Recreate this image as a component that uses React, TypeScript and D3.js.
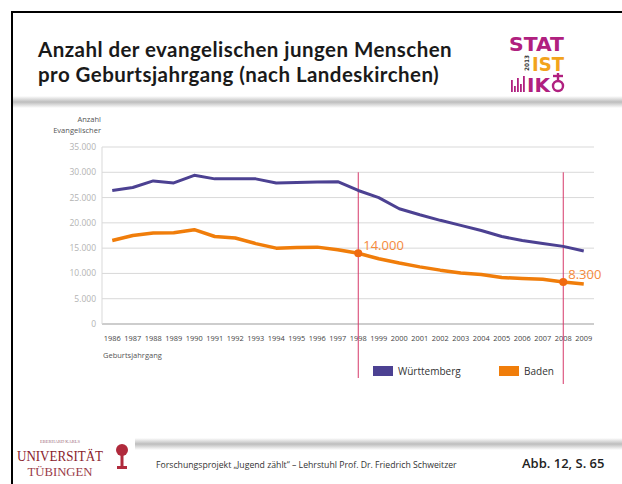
import React, { useRef, useEffect } from 'react';
import * as d3 from 'd3';

const years = [
  '1986', '1987', '1988', '1989', '1990', '1991', '1992', '1993', '1994', '1995', '1996', '1997',
  '1998', '1999', '2000', '2001', '2002', '2003', '2004', '2005', '2006', '2007', '2008', '2009',
];
const wuerttemberg = [
  26400, 27000, 28300, 27900, 29400, 28700, 28700, 28700, 27900, 28000, 28100, 28150,
  26400, 25000, 22800, 21600, 20500, 19500, 18500, 17300, 16500, 15900, 15350, 14450,
];
const baden = [
  16500, 17500, 18000, 18050, 18650, 17300, 17000, 15900, 15000, 15150, 15200, 14700,
  14000, 12900, 12050, 11300, 10650, 10100, 9800, 9200, 9000, 8850, 8300, 7900,
];
const yTicks = [0, 5000, 10000, 15000, 20000, 25000, 30000, 35000];
const markedYears = ['1998', '2008'];
const markedLabels = ['14.000', '8.300'];

const de = d3.formatLocale({ decimal: ',', thousands: '.', grouping: [3], currency: ['', ' €'] });
const fmt = de.format(',d');

const renderChart = (node: SVGSVGElement) => {
  const svg = d3.select(node);
  svg.selectAll('*').remove();

  const defs = svg.append('defs');
  const grad = defs.append('linearGradient').attr('id', 'band').attr('x1', 0).attr('x2', 0).attr('y1', 0).attr('y2', 1);
  grad.append('stop').attr('offset', '0%').attr('stop-color', '#fff');
  grad.append('stop').attr('offset', '50%').attr('stop-color', '#bdbdbd');
  grad.append('stop').attr('offset', '100%').attr('stop-color', '#fff');

  svg.append('rect').attr('width', 622).attr('height', 484).attr('fill', '#fff');

  // frame
  svg.append('line').attr('x1', 11).attr('x2', 622).attr('y1', 12).attr('y2', 12).attr('stroke', '#000').attr('stroke-width', 2);
  svg.append('line').attr('x1', 12).attr('x2', 12).attr('y1', 11).attr('y2', 484).attr('stroke', '#000').attr('stroke-width', 2);

  // title
  const title = svg.append('text')
    .attr('font-family', 'Lato')
    .attr('font-weight', 700)
    .attr('font-size', 20.5)
    .attr('letter-spacing', 0.45)
    .attr('fill', '#1a1a1a');
  title.append('tspan').attr('x', 38).attr('y', 57).text('Anzahl der evangelischen jungen Menschen');
  title.append('tspan').attr('x', 38).attr('y', 82).text('pro Geburtsjahrgang (nach Landeskirchen)');

  svg.append('rect').attr('x', 13).attr('y', 96).attr('width', 609).attr('height', 12).attr('fill', 'url(#band)');

  // logo
  const logo = svg.append('g').attr('font-family', 'DejaVu Sans').attr('font-weight', 'bold');
  logo.append('text').attr('x', 509).attr('y', 51).attr('font-size', 19).attr('fill', '#b0207f')
    .attr('textLength', 55).attr('lengthAdjust', 'spacingAndGlyphs').text('STAT');
  logo.append('text').attr('x', 532).attr('y', 71).attr('font-size', 19).attr('fill', '#f2a31c')
    .attr('textLength', 32).attr('lengthAdjust', 'spacingAndGlyphs').text('IST');
  logo.append('text').attr('transform', 'translate(529,71) rotate(-90)').attr('font-size', 6).attr('fill', '#333')
    .attr('textLength', 16).attr('lengthAdjust', 'spacingAndGlyphs').text('2013');
  logo.append('text').attr('x', 527).attr('y', 92).attr('font-size', 19).attr('fill', '#b0207f')
    .attr('textLength', 23).attr('lengthAdjust', 'spacingAndGlyphs').text('IK');
  ;[0, 1, 2, 3, 4].forEach(i => {
    const h = [12, 6, 14, 8, 16][i];
    logo.append('rect').attr('x', 511 + i * 3).attr('y', 92 - h).attr('width', 1.8).attr('height', h).attr('fill', '#b0207f');
  });
  logo.append('circle').attr('cx', 558).attr('cy', 86).attr('r', 5).attr('fill', 'none').attr('stroke', '#b0207f').attr('stroke-width', 2.4);
  logo.append('line').attr('x1', 558).attr('x2', 558).attr('y1', 73).attr('y2', 81).attr('stroke', '#b0207f').attr('stroke-width', 2.4);
  logo.append('line').attr('x1', 553).attr('x2', 563).attr('y1', 76).attr('y2', 76).attr('stroke', '#b0207f').attr('stroke-width', 2.4);

  // chart
  const x = d3.scaleBand().domain(years).range([102, 594]).padding(0);
  const cx = (d: string) => (x(d) as number) + x.bandwidth() / 2;
  const y = d3.scaleLinear().domain([0, 35000]).range([324, 147]);

  const grid = svg.append('g');
  grid.selectAll('line').data(yTicks).enter().append('line')
    .attr('x1', 102).attr('x2', 594)
    .attr('y1', d => y(d)).attr('y2', d => y(d))
    .attr('stroke', d => (d === 0 ? '#bdbdbd' : '#d9d9d9'))
    .attr('stroke-width', d => (d === 0 ? 1.5 : 1));
  grid.append('line').attr('x1', 102).attr('x2', 102).attr('y1', y(35000)).attr('y2', y(0)).attr('stroke', '#d9d9d9');

  svg.append('g').selectAll('text').data(yTicks).enter().append('text')
    .attr('x', 96).attr('y', d => y(d) + 3)
    .attr('text-anchor', 'end')
    .attr('font-family', 'Open Sans').attr('font-size', 8.5).attr('fill', '#b3b3b3')
    .text(d => fmt(d));

  const axisLab = svg.append('text').attr('text-anchor', 'end').attr('font-family', 'Open Sans')
    .attr('font-size', 7.5).attr('fill', '#555');
  axisLab.append('tspan').attr('x', 101).attr('y', 122).text('Anzahl');
  axisLab.append('tspan').attr('x', 101).attr('y', 133).text('Evangelischer');

  svg.append('g').selectAll('text').data(years).enter().append('text')
    .attr('x', d => cx(d)).attr('y', 341)
    .attr('text-anchor', 'middle')
    .attr('font-family', 'Open Sans').attr('font-size', 7.4).attr('fill', '#444')
    .text(d => d);

  svg.append('text').attr('x', 103).attr('y', 358).attr('font-family', 'Open Sans').attr('font-size', 7.5)
    .attr('fill', '#555').text('Geburtsjahrgang');

  // marker lines
  svg.append('g').selectAll('line').data(markedYears).enter().append('line')
    .attr('x1', d => cx(d)).attr('x2', d => cx(d))
    .attr('y1', y(30000)).attr('y2', (d, i) => (i === 0 ? 378 : 384))
    .attr('stroke', '#d6386a').attr('stroke-width', 1);

  const line = d3.line<number>().x((d, i) => cx(years[i])).y(d => y(d)).curve(d3.curveLinear);

  svg.append('path').datum(wuerttemberg).attr('d', line).attr('fill', 'none')
    .attr('stroke', '#4c4192').attr('stroke-width', 3).attr('stroke-linejoin', 'round');
  svg.append('path').datum(baden).attr('d', line).attr('fill', 'none')
    .attr('stroke', '#f07d0a').attr('stroke-width', 3.5).attr('stroke-linejoin', 'round');

  svg.append('g').selectAll('circle').data(markedYears).enter().append('circle')
    .attr('cx', d => cx(d)).attr('cy', d => y(baden[years.indexOf(d)]))
    .attr('r', 4).attr('fill', '#f06a10');

  svg.append('g').selectAll('text').data(markedYears).enter().append('text')
    .attr('x', d => cx(d) + 5).attr('y', d => y(baden[years.indexOf(d)]) - 3)
    .attr('font-family', 'Open Sans').attr('font-size', 13).attr('fill', '#f58a3c')
    .text((d, i) => markedLabels[i]);

  // legend
  const legend = [
    { name: 'Württemberg', color: '#4c4192', x: 373 },
    { name: 'Baden', color: '#f07d0a', x: 499 },
  ];
  const lg = svg.append('g').selectAll('g').data(legend).enter().append('g');
  lg.append('rect').attr('x', d => d.x).attr('y', 366).attr('width', 20).attr('height', 10).attr('fill', d => d.color);
  lg.append('text').attr('x', d => d.x + 25).attr('y', 375).attr('font-family', 'Open Sans').attr('font-size', 10)
    .attr('fill', '#333').text(d => d.name);

  // footer
  svg.append('rect').attr('x', 135).attr('y', 438).attr('width', 487).attr('height', 12).attr('fill', 'url(#band)');
  const uni = svg.append('g').attr('fill', '#8a1c2c').attr('font-family', 'Liberation Serif');
  uni.append('text').attr('x', 60).attr('y', 443).attr('font-size', 4.5).attr('text-anchor', 'middle')
    .attr('fill', '#a07080').text('EBERHARD KARLS');
  uni.append('text').attr('x', 60).attr('y', 461).attr('font-size', 15).attr('text-anchor', 'middle')
    .attr('textLength', 86).attr('lengthAdjust', 'spacingAndGlyphs').text('UNIVERSITÄT');
  uni.append('text').attr('x', 60).attr('y', 476).attr('font-size', 13).attr('text-anchor', 'middle')
    .attr('fill', '#9a3a48')
    .attr('textLength', 65).attr('lengthAdjust', 'spacingAndGlyphs').text('TÜBINGEN');
  // little tree emblem
  uni.append('circle').attr('cx', 122).attr('cy', 450).attr('r', 6).attr('fill', '#b02a3c');
  uni.append('rect').attr('x', 120.5).attr('y', 454).attr('width', 3).attr('height', 13).attr('fill', '#b02a3c');
  uni.append('rect').attr('x', 117).attr('y', 466).attr('width', 10).attr('height', 3).attr('fill', '#b02a3c');

  svg.append('text').attr('x', 156).attr('y', 468).attr('font-family', 'Open Sans').attr('font-size', 8.7)
    .attr('fill', '#333').text('Forschungsprojekt „Jugend zählt“ – Lehrstuhl Prof. Dr. Friedrich Schweitzer');
  svg.append('text').attr('x', 522).attr('y', 468).attr('font-family', 'Open Sans').attr('font-weight', 600)
    .attr('font-size', 13).attr('fill', '#222').text('Abb. 12, S. 65');
};

export default function App() {
  const ref = useRef<SVGSVGElement>(null);
  useEffect(() => {
    if (ref.current) renderChart(ref.current);
  }, []);
  return (
    <svg ref={ref} width={622} height={484} style={{ position: 'absolute', left: 0, top: 0 }} />
  );
}
